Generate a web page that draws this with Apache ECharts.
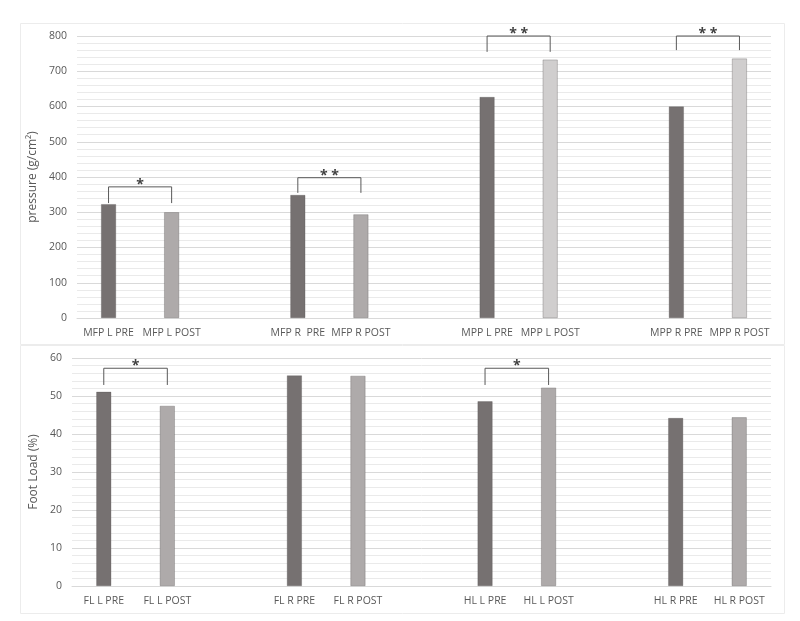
<!DOCTYPE html>
<html lang="en">
<head>
    <meta charset="utf-8"/>
    <script src="https://cdn.jsdelivr.net/npm/echarts@6/dist/echarts.min.js"></script>
    <title></title>
    <style>
        html, body { margin: 0; padding: 0; background: #fff; }
    </style>
</head>
<body>
<div id="main" style="width: 800px;height:621px;"></div>
<script type="text/javascript">

    // top panel: pressure, empty strings are gaps between pairs
    var pressureCats = ['MFP L PRE', 'MFP L POST', '', 'MFP R  PRE', 'MFP R POST', '',
        'MPP L PRE', 'MPP L POST', '', 'MPP R PRE', 'MPP R POST'];
    var pressureVals = [323, 300, '-', 349, 294, '-', 627, 733, '-', 600, 736];

    // bottom panel: foot load
    var loadCats = ['FL L PRE', 'FL L POST', '', 'FL R PRE', 'FL R POST', '',
        'HL L PRE', 'HL L POST', '', 'HL R PRE', 'HL R POST'];
    var loadVals = [51.1, 47.4, '-', 55.4, 55.3, '-', 48.6, 52.2, '-', 44.2, 44.4];

    // significance brackets: [from idx, to idx, line value, left leg end, right leg end, stars]
    var pressureSig = [
        [0, 1, 372, 326, 326, '*'],
        [3, 4, 398, 355, 355, '* *'],
        [6, 7, 800, 755, 755, '* *'],
        [9, 10, 800, 760, 760, '* *']
    ];
    var loadSig = [
        [0, 1, 57.3, 52.9, 52.9, '*'],
        [6, 7, 57.3, 52.9, 52.9, '*']
    ];

    var textColor = '#595959';
    var fontFam = 'Open Sans, sans-serif';

    function barColor(params) {
        var n = params.name;
        if (n.indexOf('PRE') >= 0) return '#767171';
        if (n.indexOf('MPP') === 0) return '#d0cece';
        return '#aeaaaa';
    }

    function bracketItem(params, api) {
        var a = api.coord([api.value(0), api.value(2)]);
        var b = api.coord([api.value(1), api.value(2)]);
        var aEnd = api.coord([api.value(0), api.value(3)]);
        var bEnd = api.coord([api.value(1), api.value(4)]);
        return {
            type: 'group',
            children: [
                {
                    type: 'polyline',
                    shape: {points: [[a[0], aEnd[1]], a, b, [b[0], bEnd[1]]]},
                    style: {stroke: textColor, lineWidth: 1, fill: null}
                },
                {
                    type: 'text',
                    style: {
                        text: api.value(5),
                        x: (a[0] + b[0]) / 2,
                        y: a[1] - 2,
                        textAlign: 'center',
                        textVerticalAlign: 'middle',
                        fill: '#404040',
                        font: 'bold 14px ' + fontFam
                    }
                }
            ]
        };
    }

    function xAxisOf(cats, gi) {
        return {
            type: 'category',
            gridIndex: gi,
            data: cats,
            axisTick: {show: false},
            axisLine: {lineStyle: {color: '#d9d9d9'}},
            axisLabel: {color: textColor, fontSize: 10.5, fontFamily: fontFam, interval: 0, margin: 10}
        };
    }

    function yAxisOf(gi, max, interval, name, gap) {
        return {
            type: 'value',
            gridIndex: gi,
            min: 0,
            max: max,
            interval: interval,
            name: name,
            nameLocation: 'middle',
            nameGap: gap,
            nameTextStyle: {color: textColor, fontSize: 12, fontFamily: fontFam},
            axisLine: {show: false},
            axisTick: {show: false},
            axisLabel: {color: textColor, fontSize: 10.5, fontFamily: fontFam, margin: 10},
            splitLine: {lineStyle: {color: '#d9d9d9'}},
            minorTick: {show: false, splitNumber: 5},
            minorSplitLine: {show: true, lineStyle: {color: '#eaeaea'}}
        };
    }

    var myChart = echarts.init(document.getElementById('main'));

    var option = {
        animation: false,
        backgroundColor: '#fff',
        graphic: [
            {type: 'rect', shape: {x: 20.5, y: 23.5, width: 764, height: 321},
                style: {fill: null, stroke: '#ececec', lineWidth: 1}},
            {type: 'rect', shape: {x: 20.5, y: 345.5, width: 764, height: 268},
                style: {fill: null, stroke: '#ececec', lineWidth: 1}}
        ],
        grid: [
            {left: 77, right: 29, top: 36, height: 282},
            {left: 72, right: 29, top: 358, height: 228}
        ],
        xAxis: [xAxisOf(pressureCats, 0), xAxisOf(loadCats, 1)],
        yAxis: [
            yAxisOf(0, 800, 100, 'pressure (g/cm\u00b2)', 34),
            yAxisOf(1, 60, 10, 'Foot Load (%)', 31)
        ],
        series: [
            {
                type: 'bar',
                xAxisIndex: 0,
                yAxisIndex: 0,
                barWidth: 15,
                data: pressureVals,
                itemStyle: {color: barColor, borderColor: 'rgba(80,76,76,0.5)', borderWidth: 0.6}
            },
            {
                type: 'bar',
                xAxisIndex: 1,
                yAxisIndex: 1,
                barWidth: 15,
                data: loadVals,
                itemStyle: {color: barColor, borderColor: 'rgba(80,76,76,0.5)', borderWidth: 0.6}
            },
            {
                type: 'custom',
                xAxisIndex: 0,
                yAxisIndex: 0,
                clip: false,
                silent: true,
                renderItem: bracketItem,
                data: pressureSig,
                z: 5
            },
            {
                type: 'custom',
                xAxisIndex: 1,
                yAxisIndex: 1,
                clip: false,
                silent: true,
                renderItem: bracketItem,
                data: loadSig,
                z: 5
            }
        ]
    };
    myChart.setOption(option);

    window.onresize = function () { myChart.resize(); };
</script>
</body>
</html>
